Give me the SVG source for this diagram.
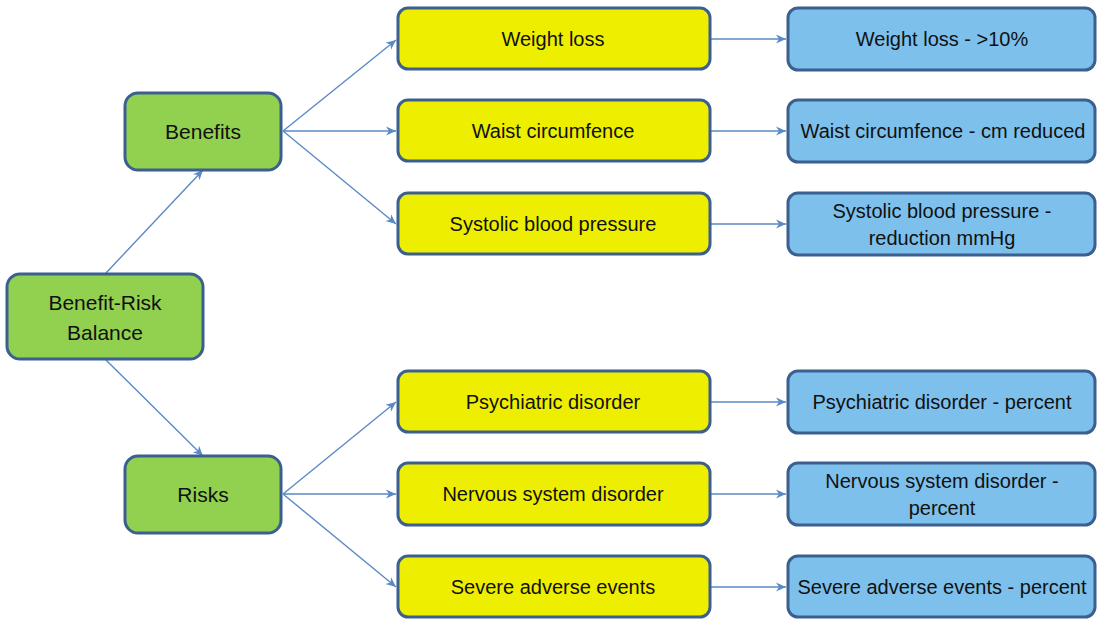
<svg xmlns="http://www.w3.org/2000/svg" width="1097" height="619" viewBox="0 0 1097 619">
<style>
.box{stroke:#3B5F8F;stroke-width:3}
.g{fill:#92D050}
.y{fill:#EEEE00}
.b{fill:#7DC0EC}
text{font-family:"Liberation Sans",Arial,sans-serif;font-size:20px;fill:#111;text-anchor:middle;dominant-baseline:central}
.lg{font-size:21px}
.c{stroke:#5A8AC6;stroke-width:1.4;fill:none;marker-end:url(#ah)}
</style>
<defs>
<marker id="ah" markerWidth="12" markerHeight="10" refX="10" refY="5" orient="auto" markerUnits="userSpaceOnUse">
<path d="M0,0.5 L10,5 L0,9.5 L3,5 Z" fill="#5A8AC6"/>
</marker>
</defs>
<rect width="1097" height="619" fill="#fff"/>
<g id="connectors">
<line class="c" x1="106" y1="273" x2="203" y2="170"/>
<line class="c" x1="106" y1="360" x2="203" y2="456"/>
<line class="c" x1="283" y1="131" x2="396" y2="40"/>
<line class="c" x1="283" y1="131" x2="396" y2="131"/>
<line class="c" x1="283" y1="131" x2="396" y2="224"/>
<line class="c" x1="283" y1="494" x2="396" y2="402"/>
<line class="c" x1="283" y1="494" x2="396" y2="494"/>
<line class="c" x1="283" y1="494" x2="396" y2="587"/>
<line class="c" x1="711" y1="39" x2="786" y2="39"/>
<line class="c" x1="711" y1="131" x2="786" y2="131"/>
<line class="c" x1="711" y1="224" x2="786" y2="224"/>
<line class="c" x1="711" y1="402" x2="786" y2="402"/>
<line class="c" x1="711" y1="494" x2="786" y2="494"/>
<line class="c" x1="711" y1="587" x2="786" y2="587"/>
</g>
<g id="n-brb"><rect class="box g" x="7" y="274" width="196" height="85" rx="13"/><text class="lg" x="105" y="302">Benefit-Risk</text><text class="lg" x="105" y="332">Balance</text></g>
<g id="n-benefits"><rect class="box g" x="125" y="93" width="156" height="77" rx="13"/><text class="lg" x="203" y="131">Benefits</text></g>
<g id="n-risks"><rect class="box g" x="125" y="456" width="156" height="77" rx="13"/><text class="lg" x="203" y="494">Risks</text></g>
<g id="n-y1"><rect class="box y" x="398" y="8" width="312" height="61" rx="10"/><text x="553" y="39">Weight loss</text></g>
<g id="n-y2"><rect class="box y" x="398" y="100" width="312" height="61" rx="10"/><text x="553" y="131">Waist circumfence</text></g>
<g id="n-y3"><rect class="box y" x="398" y="193" width="312" height="61" rx="10"/><text x="553" y="224">Systolic blood pressure</text></g>
<g id="n-y4"><rect class="box y" x="398" y="371" width="312" height="61" rx="10"/><text x="553" y="402">Psychiatric disorder</text></g>
<g id="n-y5"><rect class="box y" x="398" y="463" width="312" height="62" rx="10"/><text x="553" y="494">Nervous system disorder</text></g>
<g id="n-y6"><rect class="box y" x="398" y="556" width="312" height="61" rx="10"/><text x="553" y="587">Severe adverse events</text></g>
<g id="n-b1"><rect class="box b" x="788" y="8" width="307" height="62" rx="10"/><text x="942" y="39">Weight loss - &gt;10%</text></g>
<g id="n-b2"><rect class="box b" x="788" y="100" width="307" height="62" rx="10"/><text x="943" y="131">Waist circumfence - cm reduced</text></g>
<g id="n-b3"><rect class="box b" x="788" y="193" width="307" height="62" rx="10"/><text x="942" y="211">Systolic blood pressure -</text><text x="942" y="238">reduction mmHg</text></g>
<g id="n-b4"><rect class="box b" x="788" y="371" width="307" height="62" rx="10"/><text x="942" y="402">Psychiatric disorder - percent</text></g>
<g id="n-b5"><rect class="box b" x="788" y="463" width="307" height="62" rx="10"/><text x="942" y="481">Nervous system disorder -</text><text x="942" y="508">percent</text></g>
<g id="n-b6"><rect class="box b" x="788" y="556" width="307" height="61" rx="10"/><text x="942" y="587">Severe adverse events - percent</text></g>
</svg>
